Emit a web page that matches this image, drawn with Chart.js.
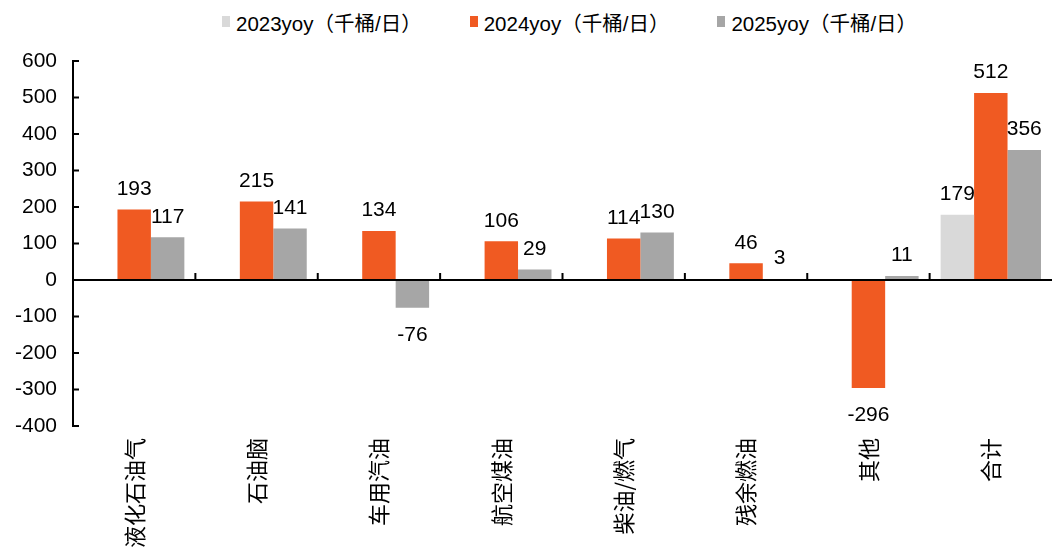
<!DOCTYPE html>
<html>
<head>
<meta charset="utf-8">
<script src="https://cdn.jsdelivr.net/npm/chart.js@4.4.1/dist/chart.umd.min.js"></script>
<style>
  html, body { margin: 0; padding: 0; background: #fff; }
  #page { position: relative; width: 1052px; height: 549px; }
  #legend {
    position: absolute; left: 222px; top: 0; height: 43px;
    display: flex; align-items: center; gap: 48px;
    font: 20.5px "Liberation Sans", "Noto Sans CJK SC", sans-serif; color: #000;
  }
  #legend .item { display: flex; align-items: center; white-space: nowrap; }
  #legend .box { width: 8px; height: 11px; margin-right: 6px; }
  #wrap { position: absolute; left: 0; top: 44px; width: 1052px; height: 505px; }
</style>
</head>
<body>
<div id="page">
  <div id="legend"></div>
  <div id="wrap"><canvas id="bar-chart"></canvas></div>
</div>
<script>
// categories and values
const categories = ['液化石油气', '石油脑', '车用汽油', '航空煤油', '柴油/燃气', '残余燃油', '其他', '合计'];
const yoy2023 = [null, null, null, null, null, null, null, 179];
const yoy2024 = [193, 215, 134, 106, 114, 46, -296, 512];
const yoy2025 = [117, 141, -76, 29, 130, 3, 11, 356];
const seriesNames = ['2023yoy（千桶/日）', '2024yoy（千桶/日）', '2025yoy（千桶/日）'];
const seriesColors = ['#D9D9D9', '#F05A22', '#A6A6A6'];
const yTicks = [600, 500, 400, 300, 200, 100, 0, -100, -200, -300, -400];

// value labels above / below each bar
const valueLabels = {
    id: 'valueLabels',
    afterDatasetsDraw(chart) {
        const ctx = chart.ctx;
        ctx.save();
        ctx.font = '21px "Liberation Sans", Arial, sans-serif';
        ctx.fillStyle = '#000';
        ctx.textAlign = 'center';
        chart.data.datasets.forEach((ds, i) => {
            const meta = chart.getDatasetMeta(i);
            meta.data.forEach((bar, j) => {
                const v = ds.data[j];
                if (v === null || v === undefined) return;
                if (v >= 0) {
                    ctx.textBaseline = 'bottom';
                    ctx.fillText(v, bar.x, bar.y - 10);
                } else {
                    ctx.textBaseline = 'top';
                    ctx.fillText(v, bar.x, bar.y + 17);
                }
            });
        });
        ctx.restore();
    }
};

// small inward ticks on the y axis and category ticks on the zero line
const axisTicks = {
    id: 'axisTicks',
    afterDraw(chart) {
        const ctx = chart.ctx;
        const x = chart.scales.x;
        const y = chart.scales.y;
        const left = chart.chartArea.left;
        const y0 = y.getPixelForValue(0);
        ctx.save();
        ctx.strokeStyle = '#000';
        ctx.lineWidth = 2;
        ctx.beginPath();
        yTicks.forEach(t => {
            const py = y.getPixelForValue(t);
            ctx.moveTo(left, py);
            ctx.lineTo(left + 6, py);
        });
        for (let i = 0; i < categories.length - 1; i++) {
            const px = (x.getPixelForValue(i) + x.getPixelForValue(i + 1)) / 2;
            ctx.moveTo(px, y0);
            ctx.lineTo(px, y0 - 7);
        }
        ctx.stroke();
        ctx.restore();
    }
};

const barChart = new Chart(document.getElementById('bar-chart'), {
type: 'bar',
data: {
    labels: categories,
    datasets: seriesNames.map((name, i) => ({
        label: name,
        data: [yoy2023, yoy2024, yoy2025][i],
        backgroundColor: seriesColors[i]
    }))
},
options: {
    responsive: true,
    maintainAspectRatio: false,
    animation: false,
    categoryPercentage: 0.82,
    barPercentage: 1,
    layout: {
        padding: { top: 17, right: 0, left: 0, bottom: 0 }
    },
    plugins: {
        legend: { display: false },
        tooltip: { enabled: false }
    },
    scales: {
        y: {
            min: -400,
            max: 600,
            afterFit: s => { s.width = 73; },
            ticks: {
                stepSize: 100,
                color: '#000',
                padding: 0,
                font: { size: 21, family: '"Liberation Sans", Arial, sans-serif' }
            },
            grid: {
                drawTicks: true,
                tickLength: 16,
                tickColor: 'rgba(0,0,0,0)',
                lineWidth: 2,
                color: c => (c.tick && c.tick.value === 0) ? '#000' : 'rgba(0,0,0,0)'
            },
            border: { display: true, color: '#000', width: 2 }
        },
        x: {
            afterFit: s => { s.height = 123; },
            ticks: {
                color: '#000',
                minRotation: 90,
                maxRotation: 90,
                padding: 12,
                font: { size: 22, family: '"Noto Sans CJK SC", sans-serif' }
            },
            grid: { display: false, drawTicks: false },
            border: { display: false }
        }
    }
},
plugins: [valueLabels, axisTicks]
});

// legend built from the chart's own datasets
const legendEl = document.getElementById('legend');
barChart.data.datasets.forEach(ds => {
    const item = document.createElement('div');
    item.className = 'item';
    const box = document.createElement('span');
    box.className = 'box';
    box.style.background = ds.backgroundColor;
    const txt = document.createElement('span');
    txt.textContent = ds.label;
    item.appendChild(box);
    item.appendChild(txt);
    legendEl.appendChild(item);
});
</script>
</body>
</html>
